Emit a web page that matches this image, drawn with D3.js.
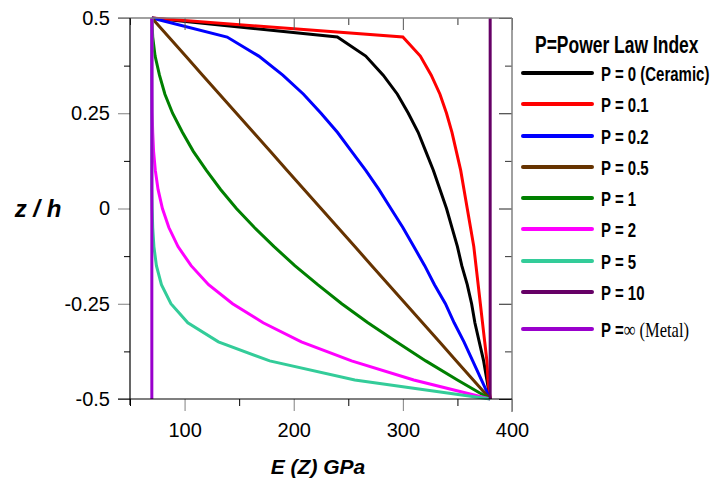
<!DOCTYPE html>
<html lang="en">
<head>
<meta charset="utf-8">
<title>E(z) through thickness</title>
<script src="https://cdn.jsdelivr.net/npm/d3@7"></script>
<style>
  body { margin: 0; background: #fff; }
  svg { display: block; }
  .tick text { font-family: "Liberation Sans", Arial, sans-serif; font-size: 20px; fill: #000; }
  .legend text { font-family: "Liberation Sans", Arial, sans-serif; font-weight: bold; fill: #000; }
  .title { font-family: "Liberation Sans", Arial, sans-serif; font-weight: bold; font-style: italic; fill: #000; }
</style>
</head>
<body>
<svg id="chart" width="711" height="481"></svg>
<script>
// z/h sample positions (top to bottom)
var zh = [0.5, 0.45, 0.4, 0.35, 0.3, 0.25, 0.2, 0.15, 0.1, 0.05, 0,
          -0.05, -0.1, -0.15, -0.2, -0.25, -0.3, -0.35, -0.4, -0.45, -0.5];
var zEnds = [0.5, -0.5];

// E(z) in GPa
var eBlack   = [70, 240, 266, 282, 295, 305, 314, 321, 328, 334, 340, 345, 350, 354, 359, 363, 366, 370, 374, 377, 380];
var eRed     = [70, 300, 316, 326, 334, 340, 345, 349, 353, 356, 359, 362, 365, 367, 369, 371, 373, 375, 377, 378, 380];
var eBlue    = [70, 139, 168, 190, 209, 225, 240, 253, 266, 278, 289, 300, 310, 320, 329, 339, 347, 356, 364, 372, 380];
var eBrown   = [70, 85.5, 101, 116.5, 132, 147.5, 163, 178.5, 194, 209.5, 225, 240.5, 256, 271.5, 287, 302.5, 318, 333.5, 349, 364.5, 380];
var eGreen   = [70, 70.8, 73, 77, 82, 89, 98, 108, 120, 133, 147.5, 164, 182, 201, 222, 244, 268, 294, 321, 350, 380];
var eMagenta = [70, 70, 70, 70, 70.1, 70.3, 70.8, 71.6, 73.2, 75.7, 79.7, 85.6, 94, 106, 122, 144, 172, 207, 253, 310, 380];
var eTeal    = [70, 70, 70, 70, 70, 70, 70, 70, 70, 70, 70.3, 70.8, 71.9, 74.2, 78.8, 87.5, 103, 131, 178, 256, 380];
var eP10     = [380, 380];
var eMetal   = [70, 70];

var legendLabels = ["P = 0 (Ceramic)", "P = 0.1", "P = 0.2", "P = 0.5", "P = 1", "P = 2", "P = 5", "P = 10", "P =\u221e (Metal)"];
var colors = ["#000000", "#ff0000", "#0000ff", "#663300", "#008000", "#ff00ff", "#33cc99", "#660066", "#9900cc"];

var xMajor = [100, 200, 300, 400];
var xMinor = [50, 150, 250, 350];
var yMajor = [-0.5, -0.25, 0, 0.25, 0.5];
var yMinor = [-0.375, -0.125, 0.125, 0.375];
var yLabels = ["-0.5", "-0.25", "0", "0.25", "0.5"];

var series = [
  {e: eBlack, z: zh}, {e: eRed, z: zh}, {e: eBlue, z: zh}, {e: eBrown, z: zh},
  {e: eGreen, z: zh}, {e: eMagenta, z: zh}, {e: eTeal, z: zh},
  {e: eP10, z: zEnds}, {e: eMetal, z: zEnds}
];

var svg = d3.select("#chart");
var x = d3.scaleLinear().domain([50, 400]).range([130, 512]);
var y = d3.scaleLinear().domain([-0.5, 0.5]).range([399, 18]);

var line = d3.line().x(d => x(d[0])).y(d => y(d[1]));

svg.append("g").selectAll("path")
  .data(series)
  .enter()
  .append("path")
  .attr("d", d => line(d.e.map((v, i) => [v, d.z[i]])))
  .attr("fill", "none")
  .attr("stroke", (d, i) => colors[i])
  .attr("stroke-width", 3);

function styleAxis(g, color) {
  g.select(".domain").remove();
  g.selectAll(".tick line").attr("stroke", color);
}

// left
svg.append("g").attr("transform", "translate(130,0)")
  .call(d3.axisLeft(y).tickValues(yMajor).tickSize(12).tickPadding(8)
    .tickFormat((d, i) => yLabels[i]))
  .call(g => styleAxis(g, "#808080"));
svg.append("g").attr("transform", "translate(130,0)")
  .call(d3.axisLeft(y).tickValues(yMinor).tickSize(6).tickFormat(""))
  .call(g => styleAxis(g, "#000"));

// bottom
svg.append("g").attr("transform", "translate(0,399)")
  .call(d3.axisBottom(x).tickValues(xMajor).tickSize(12).tickPadding(12))
  .call(g => styleAxis(g, "#808080"));
svg.append("g").attr("transform", "translate(0,399)")
  .call(d3.axisBottom(x).tickValues(xMinor).tickSize(7).tickFormat(""))
  .call(g => styleAxis(g, "#000"));

// top (inward)
svg.append("g").attr("transform", "translate(0,18)")
  .call(d3.axisTop(x).tickValues(xMajor).tickSize(-12).tickFormat(""))
  .call(g => styleAxis(g, "#555"));
svg.append("g").attr("transform", "translate(0,18)")
  .call(d3.axisTop(x).tickValues(xMinor).tickSize(-7).tickFormat(""))
  .call(g => styleAxis(g, "#333"));

// right (inward)
svg.append("g").attr("transform", "translate(512,0)")
  .call(d3.axisRight(y).tickValues(yMajor).tickSize(-13).tickFormat(""))
  .call(g => styleAxis(g, "#222"));
svg.append("g").attr("transform", "translate(512,0)")
  .call(d3.axisRight(y).tickValues(yMinor).tickSize(-7).tickFormat(""))
  .call(g => styleAxis(g, "#333"));

// frame
svg.append("line").attr("x1", 118).attr("x2", 512).attr("y1", 18).attr("y2", 18)
  .attr("stroke", "#808080").attr("stroke-width", 1.5);
svg.append("line").attr("x1", 512).attr("x2", 512).attr("y1", 18).attr("y2", 412)
  .attr("stroke", "#808080").attr("stroke-width", 1.5);
svg.append("line").attr("x1", 130).attr("x2", 130).attr("y1", 18).attr("y2", 405)
  .attr("stroke", "#000").attr("stroke-width", 1.2);
svg.append("line").attr("x1", 118).attr("x2", 512).attr("y1", 399).attr("y2", 399)
  .attr("stroke", "#000").attr("stroke-width", 1.2);

// axis titles
svg.append("text").attr("class", "title")
  .attr("x", 38).attr("y", 217).attr("text-anchor", "middle")
  .style("font-size", "24px").text("z / h");
svg.append("text").attr("class", "title")
  .attr("x", 318).attr("y", 474).attr("text-anchor", "middle")
  .style("font-size", "21px").text("E (Z) GPa");

// legend (condensed bold text)
var legend = svg.append("g").attr("class", "legend");
legend.append("text")
  .attr("transform", "translate(535,53) scale(0.76,1)")
  .style("font-size", "23px").text("P=Power Law Index");

var legendY = [73, 104, 136, 167, 198, 229, 261, 292, 329];
var item = legend.selectAll("g.item")
  .data(legendLabels)
  .enter()
  .append("g")
  .attr("class", "item")
  .attr("transform", (d, i) => `translate(0,${legendY[i]})`);

item.append("line")
  .attr("x1", 523).attr("x2", 592)
  .attr("stroke", (d, i) => colors[i])
  .attr("stroke-width", 4)
  .attr("stroke-linecap", "round");

item.filter((d, i) => i < 8).append("text")
  .attr("transform", "translate(601,8) scale(0.75,1)")
  .style("font-size", "20px")
  .text(d => d);

var metal = item.filter((d, i) => i === 8).append("text")
  .attr("transform", "translate(601,8) scale(0.75,1)")
  .style("font-size", "20px");
metal.append("tspan").text("P =");
metal.append("tspan")
  .style("font-family", "'Liberation Serif', 'Times New Roman', serif")
  .style("font-weight", "normal")
  .style("font-size", "22px")
  .text("\u221e (Metal)");
</script>
</body>
</html>
